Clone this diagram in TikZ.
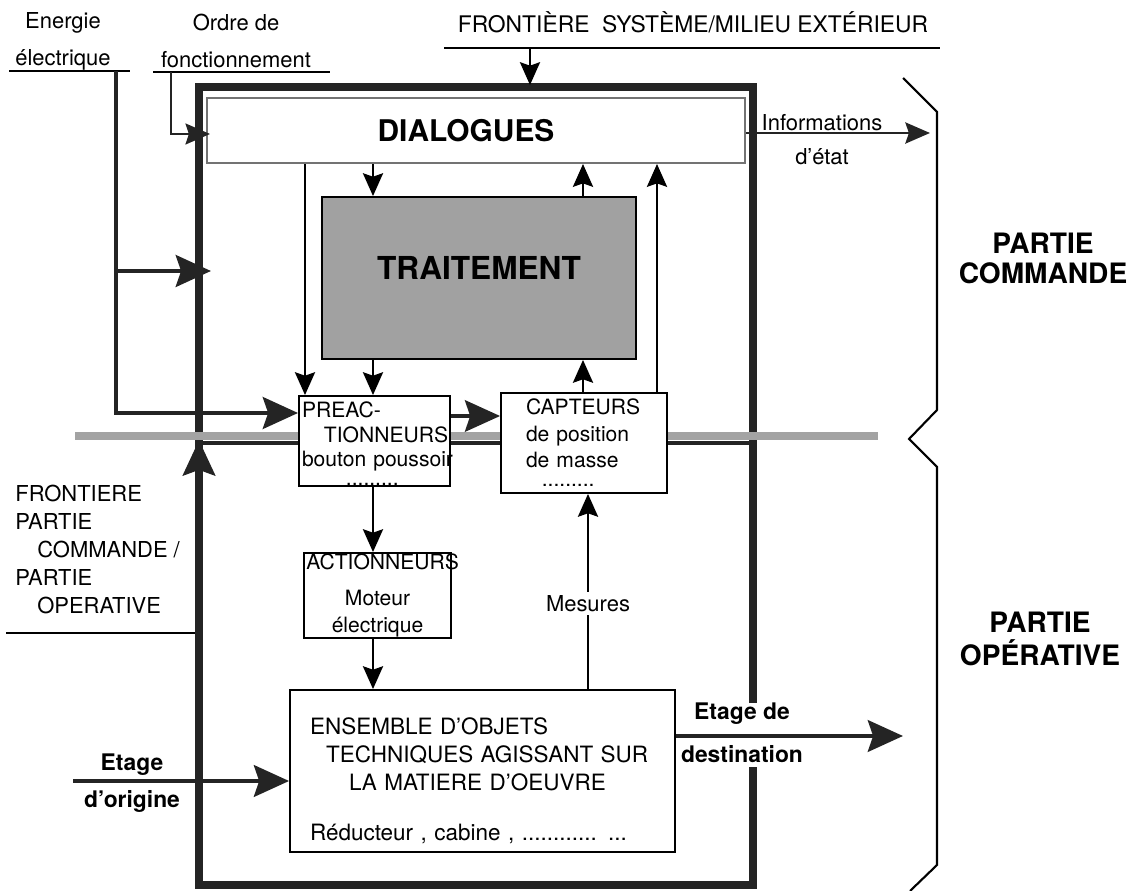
\documentclass[tikz,border=0pt]{standalone}
\usepackage{fontspec}
\setmainfont{TeX Gyre Heros}
\usetikzlibrary{arrows.meta, positioning}
\definecolor{gcaInk}{gray}{0.14}
\definecolor{gcaBand}{gray}{0.64}
\definecolor{gcaShade}{gray}{0.63}
\definecolor{gcaEdge}{gray}{0.45}
\newcommand{\lbltxt}{\fontsize{12.5}{15}\selectfont}
\newcommand{\boxtxt}{\fontsize{12}{14}\selectfont}
\newcommand{\etagetxt}{\fontsize{13}{15}\selectfont\bfseries}
\newcommand{\partietxt}{\fontsize{16}{17}\selectfont\bfseries}

\begin{document}
\begin{tikzpicture}[x=0.02cm, y=-0.02cm,
    box/.style={draw=black, line width=1.1pt, fill=white, font=\boxtxt, inner xsep=1pt, inner ysep=0pt},
    frameline/.style={draw=gcaInk, line width=4.5pt},
    bandline/.style={draw=gcaBand, line width=4.5pt},
    wire/.style={draw=black, line width=1pt},
    bigarrow/.style={-{Stealth[length=20pt, width=18pt, inset=3pt]}, draw=gcaInk, line width=2.6pt},
    midarrow/.style={-{Stealth[length=14pt, width=12pt, inset=2pt]}, draw=gcaInk, line width=1.6pt},
    smallarrow/.style={-{Stealth[length=13pt, width=11.5pt, inset=2pt]}, draw=black, line width=1pt},
    lbl/.style={font=\lbltxt, inner sep=0pt, align=center}
  ]
  \useasboundingbox (0,0) rectangle (1137,891);

  % frame of the system and frontier band
  \draw[frameline] (753,703) -- (753,87) -- (199,87) -- (199,885) -- (753,885) -- (753,767);
  \draw[frameline, line width=2.8pt] (199,443) -- (753,443);
  \draw[bandline] (75,436) -- (878,436);

  % boxes
  \node[box, draw=gcaEdge, line width=1.2pt, minimum width=10.76cm, minimum height=1.3cm,
    font=\fontsize{17}{19}\selectfont\bfseries] (dialogues) at (476,130.5) {DIALOGUES\hspace*{0.4cm}};
  \node[box, fill=gcaShade, minimum width=6.28cm, minimum height=3.24cm,
    font=\fontsize{18}{20}\selectfont\bfseries] (traitement) at (479,278) {\rule[-11.4pt]{0pt}{11.4pt}TRAITEMENT};
  \node[box, minimum width=3.02cm, minimum height=1.8cm, text width=2.9cm, align=left] (preact) at (374.5,441)
    {\rule{0pt}{12pt}\mbox{PREAC-}\\\hspace*{12.5pt}\mbox{TIONNEURS}\\\mbox{bouton poussoir}\\[-3.5pt]\hspace*{25pt}.........};
  \node[box, minimum width=3.32cm, minimum height=2cm, text width=2.32cm, align=left] (capteurs) at (584,443)
    {\mbox{CAPTEURS}\\[1pt]\mbox{de position}\\[1pt]\mbox{de masse}\\[-3pt]\hspace*{9pt}.........};
  \node[box, minimum width=2.94cm, minimum height=1.7cm, text width=2.85cm, align=center] (actionneurs) at (377.5,595.5)
    {\mbox{ACTIONNEURS}\\[6.4pt]Moteur\\[1.3pt]électrique};
  \node[box, font=\fontsize{12.8}{15}\selectfont, minimum width=7.7cm, minimum height=3.24cm, text width=6.9cm, align=left] (ensemble) at (482.5,771)
    {\rule{0pt}{21pt}ENSEMBLE D'OBJETS\\[0.9pt]\hspace*{0.32cm}\mbox{TECHNIQUES AGISSANT SUR}\\[0.9pt]\hspace*{0.78cm}LA MATIERE D'OEUVRE\\[13.3pt]Réducteur , cabine , ............ ...};

  % free ends and columns
  \coordinate (energie-foot) at (116,71);
  \coordinate (energie-tee) at (116,271);
  \coordinate (energie-bend) at (116,413);
  \coordinate (frame-entry) at (211,271);
  \coordinate (ordre-foot) at (171,72);
  \coordinate (dialogues-entry) at (210,134);
  \coordinate (frontiere-foot) at (530,48);
  \coordinate (frame-top) at (530,85);
  \coordinate (infos-end) at (930,133);
  \coordinate (origine-start) at (73,781);
  \coordinate (destination-end) at (903,736);
  \coordinate (po-foot) at (199,480);
  \coordinate (pc-edge) at (199,440);
  \coordinate (col-left) at (305,0);
  \coordinate (col-mid) at (373,0);
  \coordinate (col-capt) at (583,0);
  \coordinate (col-mes) at (588,0);
  \coordinate (col-right) at (657,0);
  \coordinate (row-infos) at (0,133);
  \coordinate (row-prec) at (0,416);
  \coordinate (row-dest) at (0,736);

  % underlines
  \draw[wire] (9,71) -- (130,71);
  \draw[wire] (153,72) -- (330,72);
  \draw[wire] (444,48) -- (940,48);
  \draw[wire] (6,633) -- (195,633);

  % connectors
  \draw[bigarrow, line width=2.8pt] (energie-foot) -- (energie-bend) -- (preact.west |- energie-bend);
  \draw[bigarrow, line width=2.8pt] (energie-tee) -- (frame-entry);
  \draw[midarrow, line width=1pt] (ordre-foot) |- (dialogues-entry);
  \draw[smallarrow] (frontiere-foot) -- (frame-top);
  \draw[midarrow] (dialogues.east |- row-infos) -- (infos-end);
  \draw[bigarrow, line width=4.5pt] (po-foot) -- (pc-edge);
  \draw[smallarrow] (dialogues.south -| col-left) -- (preact.north -| col-left);
  \draw[smallarrow] (dialogues.south -| col-mid) -- (traitement.north -| col-mid);
  \draw[smallarrow] (traitement.south -| col-mid) -- (preact.north -| col-mid);
  \draw[smallarrow] (preact.south -| col-mid) -- (actionneurs.north -| col-mid);
  \draw[smallarrow] (actionneurs.south -| col-mid) -- (ensemble.north -| col-mid);
  \draw[smallarrow] (capteurs.north -| col-capt) -- (traitement.south -| col-capt);
  \draw[smallarrow] (traitement.north -| col-capt) -- (dialogues.south -| col-capt);
  \draw[smallarrow] (capteurs.north -| col-right) -- (dialogues.south -| col-right);
  \draw[smallarrow] (ensemble.north -| col-mes) -- node[pos=0.44, fill=white, font=\lbltxt, inner sep=2pt] (mesures) {Mesures} (capteurs.south -| col-mes);
  \draw[bigarrow, line width=1.8pt] (preact.east |- row-prec) -- (capteurs.west |- row-prec);
  \draw[bigarrow, line width=2.4pt] (origine-start) -- (ensemble.west |- origine-start);
  \draw[bigarrow, line width=2.4pt] (ensemble.east |- row-dest) -- (destination-end);

  % brace
  \draw[line width=1.2pt] (903,78) -- (937,112) -- (937,410) -- (909,439) -- (937,467) -- (937,865) -- (910,891);

  % labels
  \node[lbl] (energie) at (63,41) {Energie\\[6pt]électrique};
  \node[lbl] (ordre) at (236,41) {Ordre de\\[6pt]fonctionnement};
  \node[lbl, font=\fontsize{13}{15}\selectfont] (frontiere) at (693,22) {FRONTIÈRE~~SYSTÈME/MILIEU EXTÉRIEUR};
  \node[lbl] (infos) at (822,140) {Informations\\[4.3pt]d'état};
  \node[lbl, align=left, anchor=north west, font=\fontsize{12.5}{15.9}\selectfont] (frontiere-pc) at (15,485)
    {FRONTIERE\\PARTIE\\\hspace*{12.5pt}COMMANDE /\\PARTIE\\\hspace*{12.5pt}OPERATIVE};
  \node[lbl, font=\partietxt] (pc) at (1043,258) {PARTIE\\COMMANDE};
  \node[lbl, font=\partietxt] (po) at (1040,639) {PARTIE\\[2pt]OPÉRATIVE};
  \node[lbl, font=\etagetxt] (origine) at (132,783) {Etage\\[6pt]d'origine};
  \node[lbl, font=\etagetxt] (destination) at (742,733) {Etage de\\[9.4pt]destination};
\end{tikzpicture}
\end{document}
